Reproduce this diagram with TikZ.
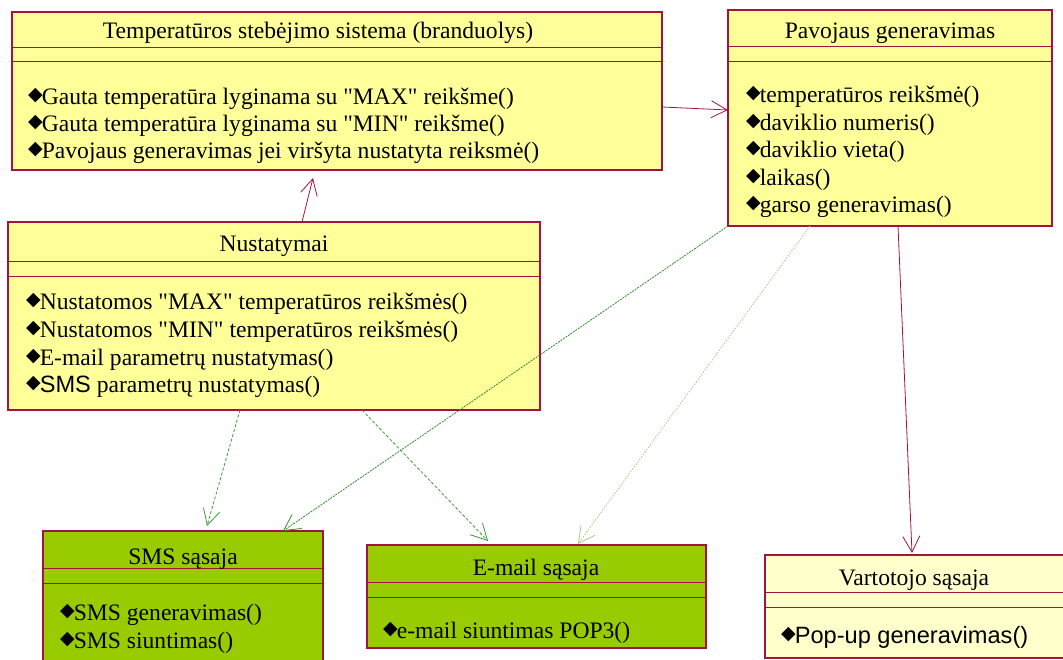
\documentclass[tikz,border=0pt]{standalone}
\usepackage{fontspec}
\setmainfont{Liberation Serif}
\newfontfamily\symfont{DejaVu Sans}
\newfontfamily\arialfont{Liberation Sans}
\usetikzlibrary{arrows.meta}

\definecolor{umlborder}{HTML}{A3133F}
\definecolor{classyellow}{HTML}{FFFF99}
\definecolor{paleyellow}{HTML}{FFFFCC}
\definecolor{ifacegreen}{HTML}{99CC00}
\definecolor{depgreen}{HTML}{3A9A3A}
\definecolor{darkdep}{HTML}{2E8B2E}
\definecolor{lightdep}{HTML}{9CCF7A}

% operation marker
\newcommand\opmark{\raisebox{4pt}{\symfont\fontsize{19}{19}\selectfont ◆}\kern-1pt}
\newcommand\qq{\textquotedbl}
% one operation row: name, owning class, x offset, baseline offset, text
\newcommand\opline[5]{\node[opline] (#1) at ([shift={(#3,#4)}]#2.north west) {\opmark #5};}
% class compartment separators at two offsets from the top
\newcommand\separators[3]{%
  \draw[sepline] ([shift={(0,#2)}]#1.north west) -- ([shift={(0,#2)}]#1.north east);
  \draw[sepline] ([shift={(0,#3)}]#1.north west) -- ([shift={(0,#3)}]#1.north east);}

\tikzset{
  umlclass/.style={draw=umlborder, line width=1.1pt, rectangle, inner sep=0pt,
    outer sep=0pt, anchor=north west},
  sepline/.style={draw=umlborder, line width=1pt},
  classname/.style={inner sep=0pt, anchor=base, font=\fontsize{23.6}{27}\selectfont},
  opline/.style={inner sep=0pt, anchor=base west, font=\fontsize{23.6}{27}\selectfont},
  assoc/.style={draw=umlborder, line width=0.8pt,
    -{Straight Barb[length=16pt,width=17pt,line width=0.8pt]}},
  depend/.style={line width=0.8pt,
    -{Straight Barb[length=16pt,width=17pt,line width=0.8pt]}},
}

\begin{document}
\begin{tikzpicture}[x=1pt,y=-1pt]
\useasboundingbox (0,0) rectangle (1063,660);
\begin{scope}
\clip (0,0) rectangle (1063,660);

% ---------- core monitoring class ----------
\node[umlclass, fill=classyellow, minimum width=650pt, minimum height=158pt] (core) at (12,12) {};
\separators{core}{36}{50}
\node[classname] (coreName) at ([shift={(306,27)}]core.north west) {Temperatūros stebėjimo sistema (branduolys)};
\opline{coreOpA}{core}{16}{93}{Gauta temperatūra lyginama su \qq MAX\qq{} reikšme()}
\opline{coreOpB}{core}{16}{120}{Gauta temperatūra lyginama su \qq MIN\qq{} reikšme()}
\opline{coreOpC}{core}{16}{147}{Pavojaus generavimas jei viršyta nustatyta reiksmė()}

% ---------- alarm class ----------
\node[umlclass, fill=classyellow, minimum width=324pt, minimum height=216pt] (alarm) at (728,10) {};
\separators{alarm}{37}{52}
\node[classname] (alarmName) at ([shift={(162,29)}]alarm.north west) {Pavojaus generavimas};
\opline{alarmOpA}{alarm}{18}{93}{temperatūros reikšmė()}
\opline{alarmOpB}{alarm}{18}{120.5}{daviklio numeris()}
\opline{alarmOpC}{alarm}{18}{148}{daviklio vieta()}
\opline{alarmOpD}{alarm}{18}{175.5}{laikas()}
\opline{alarmOpE}{alarm}{18}{203}{garso generavimas()}

% ---------- settings class ----------
\node[umlclass, fill=classyellow, minimum width=532pt, minimum height=188pt] (settings) at (8,222) {};
\separators{settings}{40}{55}
\node[classname] (settingsName) at ([shift={(266,30)}]settings.north west) {Nustatymai};
\opline{setOpA}{settings}{18}{88}{Nustatomos \qq MAX\qq{} temperatūros reikšmės()}
\opline{setOpB}{settings}{18}{115.5}{Nustatomos \qq MIN\qq{} temperatūros reikšmės()}
\opline{setOpC}{settings}{18}{143}{E-mail parametrų nustatymas()}
\opline{setOpD}{settings}{18}{170.5}{{\arialfont SMS} parametrų nustatymas()}

% ---------- SMS interface ----------
\node[umlclass, fill=ifacegreen, minimum width=280pt, minimum height=150pt] (sms) at (43,531) {};
\separators{sms}{37}{52}
\node[classname] (smsName) at ([shift={(140,33)}]sms.north west) {SMS sąsaja};
\opline{smsOpA}{sms}{17}{89}{SMS generavimas()}
\opline{smsOpB}{sms}{17}{117}{SMS siuntimas()}

% ---------- e-mail interface ----------
\node[umlclass, fill=ifacegreen, minimum width=339pt, minimum height=103pt] (email) at (367,545) {};
\separators{email}{37}{52}
\node[classname] (emailName) at ([shift={(169,30)}]email.north west) {E-mail sąsaja};
\opline{emailOpA}{email}{16}{93}{e-mail siuntimas POP3()}

% ---------- user interface ----------
\node[umlclass, fill=paleyellow, minimum width=320pt, minimum height=103pt] (user) at (765,555) {};
\separators{user}{37}{52}
\node[classname] (userName) at ([shift={(149,30)}]user.north west) {Vartotojo sąsaja};
\opline{userOpA}{user}{16}{88}{{\arialfont Pop-up generavimas()}}

% ---------- associations ----------
\draw[assoc] ([shift={(0,95)}]core.north east) -- ([shift={(0,100)}]alarm.north west);
\draw[assoc] ([shift={(294,0)}]settings.north west) -- ([shift={(301,8)}]core.south west);
\draw[assoc] ([shift={(170,0)}]alarm.south west) -- ([shift={(147,-2)}]user.north west);

% ---------- dependencies ----------
\draw[depend, depgreen, dash pattern=on 3pt off 2pt]
  ([shift={(232,0)}]settings.south west) -- ([shift={(164,-5)}]sms.north west);
\draw[depend, darkdep, dash pattern=on 2pt off 1pt]
  (alarm.south west) -- ([shift={(240,0)}]sms.north west);
\draw[depend, depgreen, dash pattern=on 3pt off 2pt]
  ([shift={(354,0)}]settings.south west) -- ([shift={(121,-4)}]email.north west);
\draw[depend, lightdep, dash pattern=on 1.5pt off 1.5pt]
  ([shift={(82,0)}]alarm.south west) -- ([shift={(211,-1)}]email.north west);
\end{scope}
\end{tikzpicture}
\end{document}
